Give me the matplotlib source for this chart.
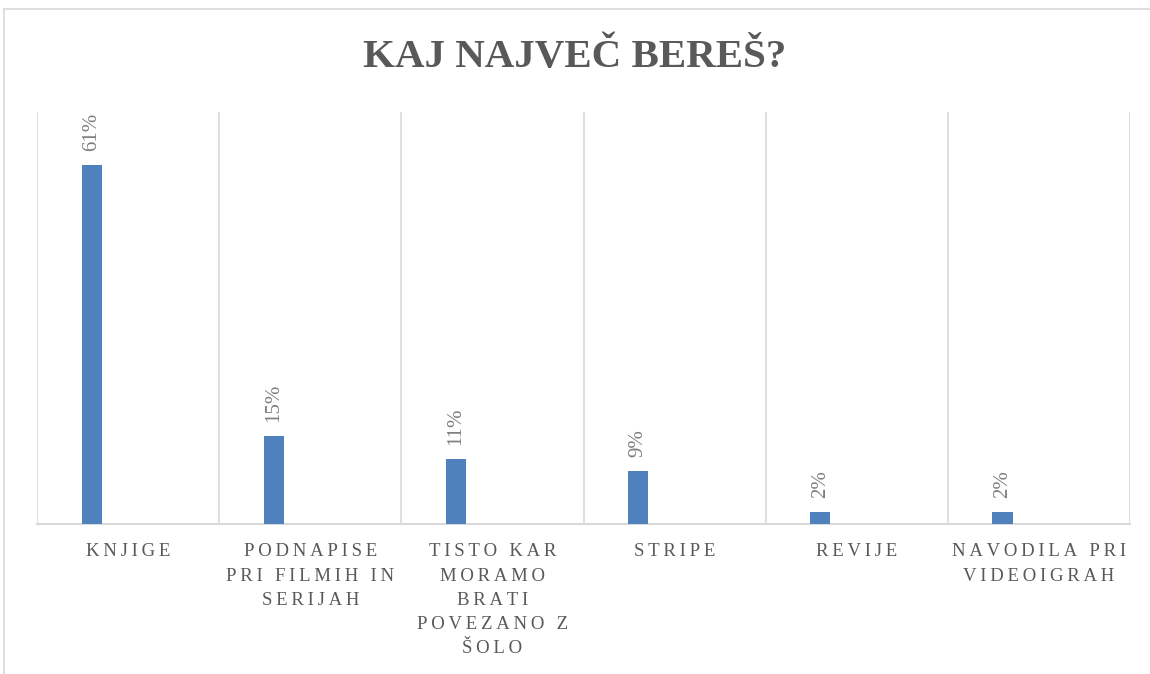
import matplotlib
matplotlib.use("Agg")
import matplotlib.pyplot as plt
from matplotlib.lines import Line2D
import numpy as np

# data
categories = ["Knjige", "Podnapise pri filmih in serijah",
              "Tisto kar moramo brati povezano z šolo", "Stripe",
              "Revije", "Navodila pri videoigrah"]
tick_labels = ["KNJIGE", "PODNAPISE\nPRI FILMIH IN\nSERIJAH",
               "TISTO KAR\nMORAMO\nBRATI\nPOVEZANO Z\nŠOLO", "STRIPE",
               "REVIJE", "NAVODILA PRI\nVIDEOIGRAH"]
shares = [61, 15, 11, 9, 2, 2]

BAR_COLOR = "#4F81BD"
GRID_COLOR = "#D9D9D9"
TEXT_COLOR = "#595959"
LABEL_COLOR = "#7F7F7F"
SERIF = "Liberation Serif"


def spaced(text, gap="\u2009"):
    """Mimic Excel's expanded character spacing with thin spaces."""
    return "\n".join(gap.join(line) for line in text.split("\n"))


fig = plt.figure(figsize=(11.5, 6.74), dpi=100)
ax = fig.add_axes([37 / 1150, 1 - 524 / 674, (1130 - 37) / 1150, (524 - 112) / 674])

x = np.arange(len(categories))
bar_x = x - 0.2
ax.bar(bar_x, shares, width=0.11, color=BAR_COLOR, zorder=3)

for bx, v in zip(bar_x, shares):
    ax.annotate(f"{v}%", (bx, v), xytext=(0, 10), textcoords="offset points",
                rotation=90, ha="center", va="bottom", fontsize=15,
                color=LABEL_COLOR, family=SERIF)

ax.set_xlim(-0.5, len(categories) - 0.5)
ax.set_ylim(0, 70)
ax.set_yticks([])

ax.set_xticks(x)
ax.set_xticklabels([spaced(t) for t in tick_labels], family=SERIF, fontsize=13.5,
                   color=TEXT_COLOR, linespacing=1.55, va="top")
ax.set_xticks(np.arange(-0.5, len(categories)), minor=True)
ax.tick_params(axis="x", which="major", length=0, pad=14)
ax.tick_params(axis="x", which="minor", length=0)
ax.grid(axis="x", which="minor", color=GRID_COLOR, linewidth=1.2, zorder=0)

for side in ["top", "left", "right"]:
    ax.spines[side].set_visible(False)
ax.spines["bottom"].set_color(GRID_COLOR)
ax.spines["bottom"].set_linewidth(1.5)

fig.text(0.5, 1 - 58 / 674, "KAJ NAJVEČ BEREŠ?", ha="center", va="center",
         fontsize=29.5, fontweight="bold", color=TEXT_COLOR, family=SERIF)

# chart frame, only the top and left edges are inside the crop
fig.add_artist(Line2D([4 / 1150, 1], [1 - 9 / 674, 1 - 9 / 674], color=GRID_COLOR, linewidth=1.2))
fig.add_artist(Line2D([4 / 1150, 4 / 1150], [0, 1 - 9 / 674], color=GRID_COLOR, linewidth=1.2))

fig.savefig("out.png", dpi=100)
